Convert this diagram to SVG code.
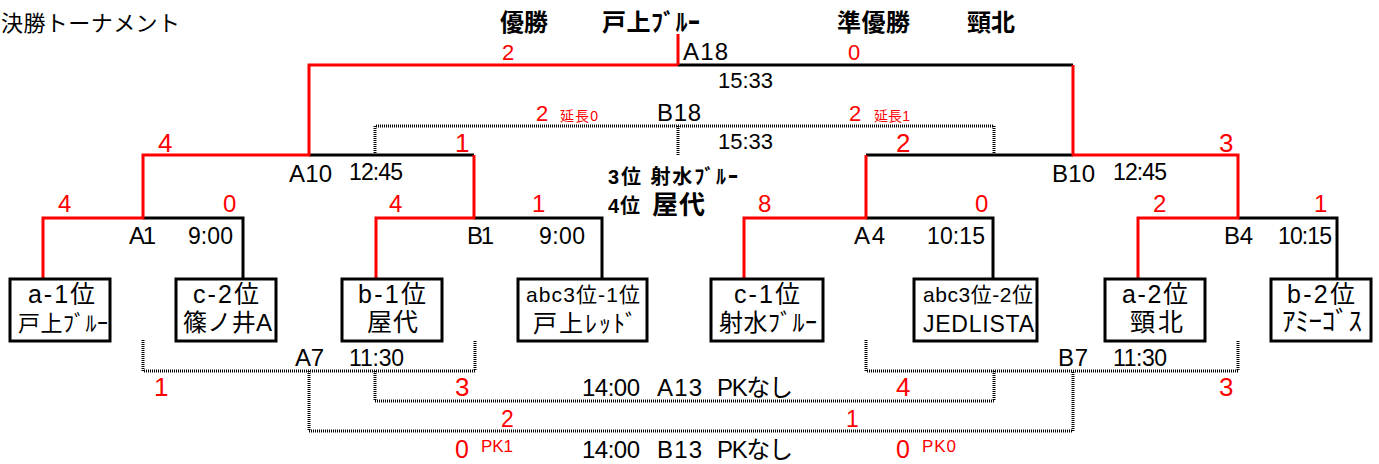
<svg xmlns="http://www.w3.org/2000/svg" width="1379" height="464" viewBox="0 0 1379 464">
<style>
text{font-family:"Liberation Sans","Noto Sans CJK JP",sans-serif;fill:#000}
.b{font-weight:bold}
.r{fill:#FF0000}
.c{text-anchor:middle}
.box{fill:#fff;stroke:#000;stroke-width:3}
.red{fill:none;stroke:#FF0000;stroke-width:3}
.blk{fill:none;stroke:#000;stroke-width:3}
.dot{fill:none;stroke:#000;stroke-width:3;stroke-dasharray:1 1}
</style>
<rect width="1379" height="464" fill="#fff"/>

<g id="title">
<text x="1" y="31" font-size="22" textLength="179">決勝トーナメント</text>
<text class="b" x="500" y="31" font-size="24" textLength="48">優勝</text>
<text class="b" x="602" y="31" font-size="24" textLength="98">戸上ﾌﾞﾙｰ</text>
<text class="b" x="837" y="31" font-size="24" textLength="73">準優勝</text>
<text class="b" x="967" y="31" font-size="24" textLength="48">頸北</text>
<text class="b" x="608" y="184" font-size="20" textLength="130">3位 射水ﾌﾞﾙｰ</text>
<text class="b" x="608" y="213" font-size="20" textLength="32">4位</text>
<text class="b" x="652" y="214" font-size="26" textLength="53">屋代</text>
</g>

<g id="connectors">
<path class="blk" d="M678,65 H1073"/>
<path class="blk" d="M143,218 H243 V278"/>
<path class="blk" d="M474,218 H602 V278"/>
<path class="blk" d="M309,155 H474"/>
<path class="blk" d="M866,218 H993 V278"/>
<path class="blk" d="M866,155 H1073"/>
<path class="blk" d="M1238,218 H1337 V278"/>
<path class="red" d="M43,278 V218 H143 V155 H309 V65 H678"/>
<path class="red" d="M678,65 V34"/>
<path class="red" d="M1073,65 V155 H1238 V218 H1138 V278"/>
<path class="red" d="M376,278 V218 H474 V155"/>
<path class="red" d="M744,278 V218 H866 V155"/>
<path class="dot" d="M375,155 V126 H994 V155"/>
<path class="dot" d="M678,126 V155"/>
<path class="dot" d="M143,340 V371 H475 V340"/>
<path class="dot" d="M866,340 V371 H1238 V340"/>
<path class="dot" d="M375,371 V401 H994 V371"/>
<path class="dot" d="M309,371 V431 H1073 V371"/>
</g>

<g id="match-labels">
<text x="683" y="60" font-size="24" textLength="45">A18</text>
<text x="718" y="88" font-size="22" textLength="55">15:33</text>
<text x="657" y="121" font-size="24" textLength="44">B18</text>
<text x="718" y="149" font-size="22" textLength="55">15:33</text>
<text x="289" y="182" font-size="24" textLength="43">A10</text>
<text x="349" y="180" font-size="23" textLength="54">12:45</text>
<text x="1052" y="182" font-size="24" textLength="43">B10</text>
<text x="1113" y="180" font-size="23" textLength="54">12:45</text>
<text x="129" y="244" font-size="24" textLength="27">A1</text>
<text x="188" y="244" font-size="23" textLength="45">9:00</text>
<text x="467" y="244" font-size="24" textLength="27">B1</text>
<text x="539" y="244" font-size="23" textLength="46">9:00</text>
<text x="854" y="244" font-size="24" textLength="31">A4</text>
<text x="927" y="244" font-size="23" textLength="58">10:15</text>
<text x="1224" y="244" font-size="24" textLength="29">B4</text>
<text x="1278" y="244" font-size="23" textLength="54">10:15</text>
<text x="295" y="366" font-size="24" textLength="29">A7</text>
<text x="349" y="366" font-size="23" textLength="55">11:30</text>
<text x="1058" y="366" font-size="24" textLength="30">B7</text>
<text x="1113" y="366" font-size="23" textLength="54">11:30</text>
<text y="396" font-size="24"><tspan x="582" textLength="58">14:00</tspan><tspan x="657" textLength="45">A13</tspan><tspan x="717" textLength="76">PKなし</tspan></text>
<text y="458" font-size="24"><tspan x="582" textLength="58">14:00</tspan><tspan x="657" textLength="45">B13</tspan><tspan x="717" textLength="76">PKなし</tspan></text>
</g>

<g id="scores">
<text class="r" x="502" y="60" font-size="22">2</text>
<text class="r" x="848" y="60" font-size="22">0</text>
<text class="r" x="536" y="121" font-size="22">2</text>
<text class="r" x="560" y="121" font-size="14" textLength="38">延長0</text>
<text class="r" x="849" y="121" font-size="22">2</text>
<text class="r" x="874" y="121" font-size="14" textLength="36">延長1</text>
<text class="r" x="158" y="152" font-size="26">4</text>
<text class="r" x="455" y="152" font-size="26">1</text>
<text class="r" x="896" y="152" font-size="26">2</text>
<text class="r" x="1219" y="152" font-size="26">3</text>
<text class="r" x="58" y="212" font-size="24">4</text>
<text class="r" x="223" y="212" font-size="24">0</text>
<text class="r" x="389" y="212" font-size="24">4</text>
<text class="r" x="532" y="212" font-size="24">1</text>
<text class="r" x="758" y="212" font-size="24">8</text>
<text class="r" x="975" y="212" font-size="24">0</text>
<text class="r" x="1153" y="212" font-size="24">2</text>
<text class="r" x="1314" y="212" font-size="24">1</text>
<text class="r" x="154" y="396" font-size="26">1</text>
<text class="r" x="455" y="396" font-size="26">3</text>
<text class="r" x="896" y="396" font-size="26">4</text>
<text class="r" x="1219" y="396" font-size="26">3</text>
<text class="r" x="501" y="427" font-size="23">2</text>
<text class="r" x="846" y="427" font-size="23">1</text>
<text class="r" x="455" y="458" font-size="25">0</text>
<text class="r" x="481" y="452" font-size="17" textLength="32">PK1</text>
<text class="r" x="896" y="458" font-size="25">0</text>
<text class="r" x="922" y="452" font-size="17" textLength="34">PK0</text>
</g>

<g id="node-a1">
<rect class="box" x="10" y="279" width="100" height="62"/>
<text class="c" x="61.5" y="303" font-size="25" textLength="67">a-1位</text>
<text class="c" x="63" y="331" font-size="22" textLength="90">戸上ﾌﾞﾙｰ</text>
</g>
<g id="node-c2">
<rect class="box" x="176" y="279" width="100" height="62"/>
<text class="c" x="226" y="303" font-size="25" textLength="66">c-2位</text>
<text class="c" x="227.5" y="331" font-size="24" textLength="89">篠ノ井A</text>
</g>
<g id="node-b1">
<rect class="box" x="342" y="279" width="100" height="62"/>
<text class="c" x="392" y="303" font-size="25" textLength="68">b-1位</text>
<text class="c" x="392.5" y="331" font-size="25" textLength="51">屋代</text>
</g>
<g id="node-abc31">
<rect class="box" x="518" y="279" width="129" height="62"/>
<text class="c" x="583" y="302" font-size="21" textLength="114">abc3位-1位</text>
<text class="c" x="585" y="332" font-size="24" textLength="104">戸上ﾚｯﾄﾞ</text>
</g>
<g id="node-c1">
<rect class="box" x="711" y="279" width="112" height="62"/>
<text class="c" x="767" y="303" font-size="25" textLength="66">c-1位</text>
<text class="c" x="768" y="331" font-size="24" textLength="98">射水ﾌﾞﾙｰ</text>
</g>
<g id="node-abc32">
<rect class="box" x="914" y="279" width="123" height="62"/>
<text class="c" x="978" y="302" font-size="21" textLength="110">abc3位-2位</text>
<text class="c" x="978.5" y="332" font-size="23" textLength="111">JEDLISTA</text>
</g>
<g id="node-a2">
<rect class="box" x="1105" y="279" width="100" height="62"/>
<text class="c" x="1155" y="303" font-size="25" textLength="66">a-2位</text>
<text class="c" x="1156.5" y="331" font-size="25" textLength="53">頸北</text>
</g>
<g id="node-b2">
<rect class="box" x="1271" y="279" width="100" height="62"/>
<text class="c" x="1321" y="303" font-size="25" textLength="68">b-2位</text>
<text class="c" x="1322" y="331" font-size="27" textLength="80">ｱﾐｰｺﾞｽ</text>
</g>
</svg>
